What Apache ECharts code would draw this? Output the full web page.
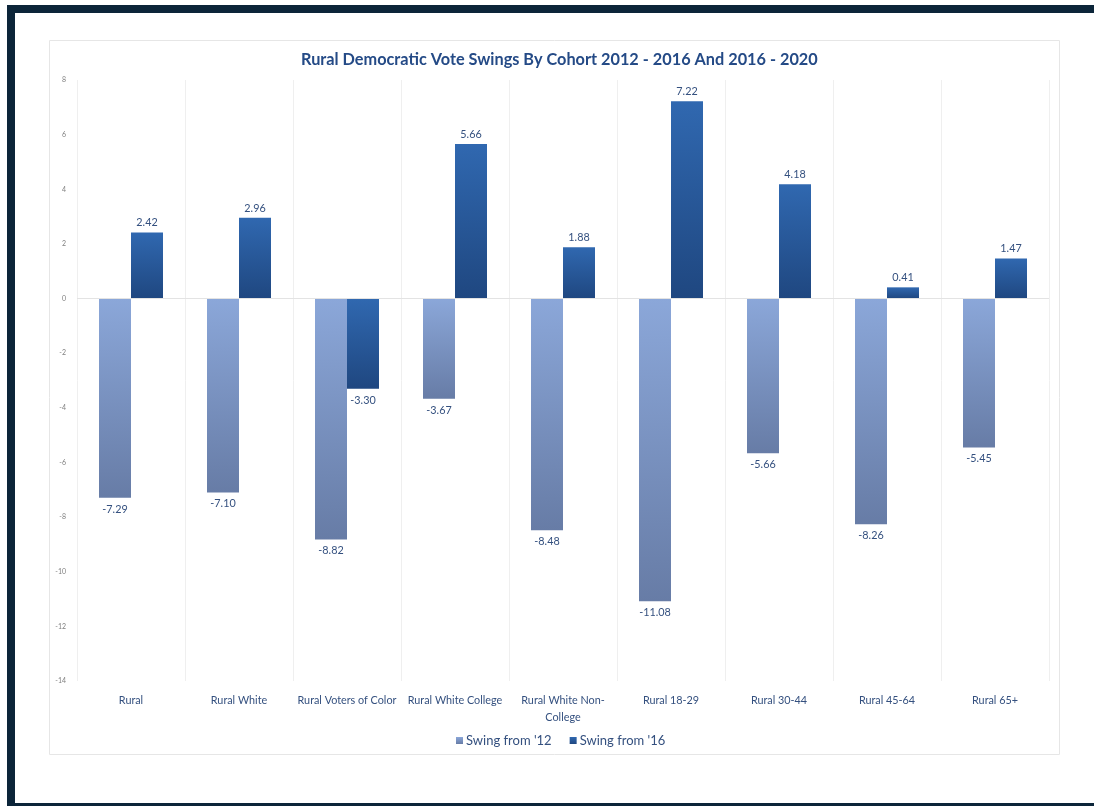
<!DOCTYPE html>
<html>
<head>
<meta charset="utf-8">
<style>
html,body{margin:0;padding:0;background:#fff;}
#chart{width:1094px;height:806px;}
</style>
<script src="https://cdn.jsdelivr.net/npm/echarts@6/dist/echarts.min.js"></script>
</head>
<body>
<div id="chart"></div>
<script>
const categories = ['Rural', 'Rural White', 'Rural Voters of Color', 'Rural White College', 'Rural White Non-\nCollege', 'Rural 18-29', 'Rural 30-44', 'Rural 45-64', 'Rural 65+'];
const swing12 = [-7.29, -7.10, -8.82, -3.67, -8.48, -11.08, -5.66, -8.26, -5.45];
const swing16 = [2.42, 2.96, -3.30, 5.66, 1.88, 7.22, 4.18, 0.41, 1.47];
const seriesNames = ["Swing from '12", "Swing from '16"];
const titleText = 'Rural Democratic Vote Swings By Cohort 2012 - 2016 And 2016 - 2020';

const FONT = 'Lato, "Open Sans", sans-serif';
const TXT = '#34507f';
const grad = (a, b) => new echarts.graphic.LinearGradient(0, 0, 0, 1, [{offset: 0, color: a}, {offset: 1, color: b}]);

function mk(values) {
  return values.map(v => ({
    value: v,
    label: {position: v >= 0 ? 'top' : 'bottom', distance: v >= 0 ? 4 : 6}
  }));
}

const chart = echarts.init(document.getElementById('chart'), null, {renderer: 'canvas'});
chart.setOption({
  backgroundColor: '#ffffff',
  animation: false,
  title: {
    text: titleText,
    left: 296,
    top: 47,
    textStyle: {fontFamily: FONT, fontWeight: 'bold', fontSize: 16.3, color: '#244a86'}
  },
  legend: {
    data: seriesNames,
    left: 451,
    top: 729,
    itemWidth: 7,
    itemHeight: 7,
    itemGap: 18,
    icon: 'rect',
    textStyle: {fontFamily: FONT, fontSize: 13, color: TXT, padding: [0, 0, 0, -2]}
  },
  grid: {left: 77, right: 45, top: 80, bottom: 125, containLabel: false},
  xAxis: {
    type: 'category',
    data: categories,
    axisLine: {show: false},
    axisTick: {show: false},
    splitLine: {show: true, lineStyle: {color: '#efefef', width: 1}},
    axisLabel: {
      interval: 0,
      margin: 11,
      fontFamily: FONT,
      fontSize: 10.8,
      lineHeight: 17,
      color: TXT
    }
  },
  yAxis: {
    type: 'value',
    min: -14,
    max: 8,
    interval: 2,
    axisLine: {show: false},
    axisTick: {show: false},
    splitLine: {show: false},
    axisLabel: {fontFamily: FONT, fontSize: 7, color: '#7f7f7f', margin: 11}
  },
  series: [
    {
      name: seriesNames[0],
      type: 'bar',
      barWidth: 32,
      barGap: '0%',
      data: mk(swing12),
      itemStyle: {color: grad('#8ba7d9', '#677ca6')},
      label: {show: true, fontFamily: FONT, fontSize: 10.8, color: TXT, formatter: p => p.value.toFixed(2)},
      markLine: {
        silent: true, symbol: 'none', label: {show: false},
        lineStyle: {color: '#e3e3e3', type: 'solid', width: 1},
        data: [{yAxis: 0}]
      },
      z: 3
    },
    {
      name: seriesNames[1],
      type: 'bar',
      barWidth: 32,
      barGap: '0%',
      data: mk(swing16),
      itemStyle: {color: grad('#3068b0', '#1f4780')},
      label: {show: true, fontFamily: FONT, fontSize: 10.8, color: TXT, formatter: p => p.value.toFixed(2)},
      z: 3
    }
  ],
  graphic: [
    {type: 'rect', z: -1, shape: {x: 49.5, y: 40.5, width: 1010, height: 714}, style: {fill: 'none', stroke: '#e6e6e6', lineWidth: 1}},
    {type: 'rect', z: 10, shape: {x: 7, y: 5, width: 8, height: 801}, style: {fill: '#0c2539'}},
    {type: 'rect', z: 10, shape: {x: 7, y: 5, width: 1087, height: 8}, style: {fill: '#0c2539'}},
    {type: 'rect', z: 10, shape: {x: 7, y: 803, width: 1087, height: 3}, style: {fill: '#0c2539'}}
  ]
});
</script>
</body>
</html>
